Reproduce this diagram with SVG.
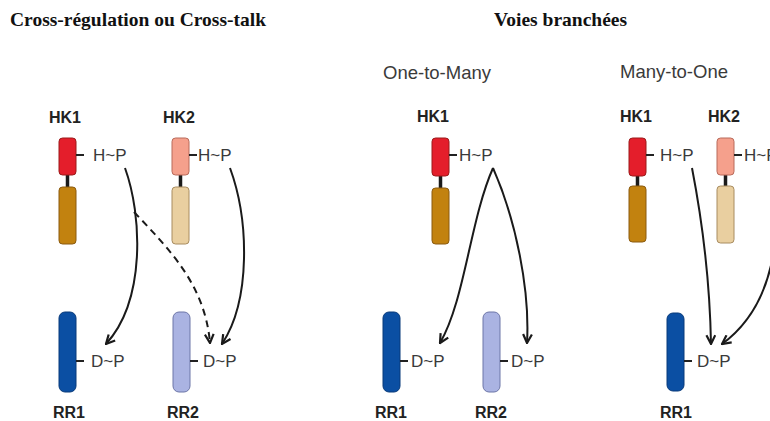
<svg xmlns="http://www.w3.org/2000/svg" width="770" height="421" viewBox="0 0 770 421">
<style>
.title{font-family:"Liberation Serif","Times New Roman",serif;font-weight:bold;font-size:19.5px;fill:#111}
.sub{font-family:"Liberation Sans",Arial,sans-serif;font-size:18.5px;fill:#3a3a3a}
.lbl{font-family:"Liberation Sans",Arial,sans-serif;font-weight:bold;font-size:16px;fill:#222}
.site{font-family:"Liberation Sans",Arial,sans-serif;font-size:17px;fill:#3a3a3a}
.tick{stroke:#222;stroke-width:2}
.link{stroke:#1a1a1a;stroke-width:3.5}
.red{fill:#e41e2b;stroke:#9a1a1a;stroke-width:1}
.brown{fill:#c2820f;stroke:#8a5a10;stroke-width:1}
.pink{fill:#f5a08c;stroke:#b86a5a;stroke-width:1}
.beige{fill:#e9cfa0;stroke:#a88c60;stroke-width:1}
.dblue{fill:#0b4fa3;stroke:#083a7a;stroke-width:1}
.lblue{fill:#aab3e2;stroke:#6d76a8;stroke-width:1}
.arr{fill:none;stroke:#1a1a1a;stroke-width:2;marker-end:url(#ah)}
.dash{stroke-dasharray:7 5}
</style>
<defs>
<marker id="ah" viewBox="0 0 10 10" refX="9" refY="5" markerWidth="11" markerHeight="11" markerUnits="userSpaceOnUse" orient="auto">
<path d="M1,1 L9,5 L1,9" fill="none" stroke="#1a1a1a" stroke-width="2"/>
</marker>
</defs>
<rect width="770" height="421" fill="#fff"/>
<text class="title" x="10" y="26">Cross-régulation ou Cross-talk</text>
<text class="title" x="494" y="26">Voies branchées</text>
<text class="sub" x="383" y="79">One-to-Many</text>
<text class="sub" x="620" y="78">Many-to-One</text>

<g id="p1-hk1">
<text class="lbl" x="49" y="123">HK1</text>
<line class="link" x1="67.5" y1="175" x2="67.5" y2="187"/>
<rect class="red" x="59" y="138" width="17" height="37" rx="3.5"/>
<rect class="brown" x="59" y="187" width="17" height="57" rx="3.5"/>
<line class="tick" x1="76" y1="155" x2="84" y2="155"/>
<text class="site" x="93" y="161">H~P</text>
</g>
<g id="p1-hk2">
<text class="lbl" x="163" y="123">HK2</text>
<line class="link" x1="180.5" y1="175" x2="180.5" y2="187"/>
<rect class="pink" x="172" y="138" width="17" height="37" rx="3.5"/>
<rect class="beige" x="172" y="187" width="17" height="57" rx="3.5"/>
<line class="tick" x1="189" y1="155" x2="197" y2="155"/>
<text class="site" x="198" y="161">H~P</text>
</g>
<g id="p1-rr1">
<rect class="dblue" x="59" y="312" width="17" height="80" rx="6"/>
<line class="tick" x1="76" y1="361" x2="84" y2="361"/>
<text class="site" x="91" y="367">D~P</text>
<text class="lbl" x="53" y="418">RR1</text>
</g>
<g id="p1-rr2">
<rect class="lblue" x="173" y="312" width="17" height="80" rx="6"/>
<line class="tick" x1="190" y1="361" x2="198" y2="361"/>
<text class="site" x="203" y="367">D~P</text>
<text class="lbl" x="167" y="418">RR2</text>
</g>

<g id="p2-hk1">
<text class="lbl" x="417" y="122">HK1</text>
<line class="link" x1="440.5" y1="176" x2="440.5" y2="188"/>
<rect class="red" x="432" y="138" width="17" height="38" rx="3.5"/>
<rect class="brown" x="432" y="188" width="17" height="56" rx="3.5"/>
<line class="tick" x1="449" y1="155" x2="457" y2="155"/>
<text class="site" x="459" y="161">H~P</text>
</g>
<g id="p2-rr1">
<rect class="dblue" x="383" y="312" width="17" height="80" rx="6"/>
<line class="tick" x1="400" y1="361" x2="408" y2="361"/>
<text class="site" x="411" y="367">D~P</text>
<text class="lbl" x="375" y="418">RR1</text>
</g>
<g id="p2-rr2">
<rect class="lblue" x="483" y="312" width="17" height="80" rx="6"/>
<line class="tick" x1="500" y1="361" x2="508" y2="361"/>
<text class="site" x="511" y="367">D~P</text>
<text class="lbl" x="475" y="418">RR2</text>
</g>

<g id="p3-hk1">
<text class="lbl" x="620" y="122">HK1</text>
<line class="link" x1="637.5" y1="176" x2="637.5" y2="186"/>
<rect class="red" x="629" y="138" width="17" height="38" rx="3.5"/>
<rect class="brown" x="629" y="186" width="17" height="56" rx="3.5"/>
<line class="tick" x1="646" y1="155" x2="654" y2="155"/>
<text class="site" x="660" y="161">H~P</text>
</g>
<g id="p3-hk2">
<text class="lbl" x="708" y="122">HK2</text>
<line class="link" x1="725.5" y1="175" x2="725.5" y2="186"/>
<rect class="pink" x="717" y="138" width="17" height="37" rx="3.5"/>
<rect class="beige" x="717" y="186" width="17" height="57" rx="3.5"/>
<line class="tick" x1="734" y1="155" x2="742" y2="155"/>
<text class="site" x="744" y="161">H~P</text>
</g>
<g id="p3-rr1">
<rect class="dblue" x="667" y="313" width="17" height="78" rx="6"/>
<line class="tick" x1="684" y1="361" x2="692" y2="361"/>
<text class="site" x="697" y="367">D~P</text>
<text class="lbl" x="660" y="418">RR1</text>
</g>

<g id="connectors">
<path class="arr" d="M125,168 C142,215 146,300 106,344"/>
<path class="arr dash" d="M134,212 C170,250 205,285 210,343"/>
<path class="arr" d="M230,168 C249,220 251,300 222,344"/>
<path class="arr" d="M493,168 C470,220 465,300 440,343"/>
<path class="arr" d="M493,168 C516,220 530,290 527,343"/>
<path class="arr" d="M692,168 C704,230 710,290 711,344"/>
<path class="arr" d="M776,232 C772,285 752,322 722,344"/>
</g>
</svg>
